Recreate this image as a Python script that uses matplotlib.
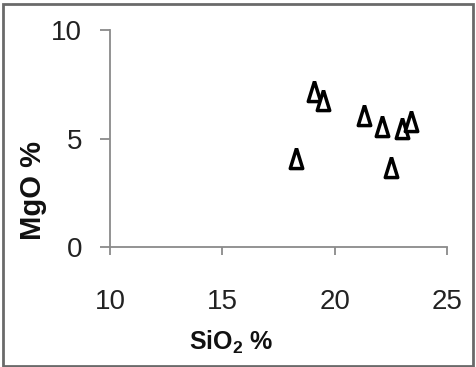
import matplotlib.pyplot as plt
from matplotlib.patches import Rectangle

# SiO2 vs MgO (wt %)
sio2 = [18.3, 19.1, 19.5, 21.3, 22.1, 22.5, 23.0, 23.4]
mgo = [4.1, 7.2, 6.8, 6.1, 5.6, 3.7, 5.5, 5.8]
x_ticks = [10, 15, 20, 25]
y_ticks = [0, 5, 10]

plt.rcParams['font.family'] = ['Liberation Sans', 'DejaVu Sans']
plt.rcParams['mathtext.fontset'] = 'custom'
plt.rcParams['mathtext.rm'] = 'Liberation Sans:bold'

fig = plt.figure(figsize=(4.76, 3.67), dpi=100)
fig.patches.append(Rectangle((0.006, 0.003), 0.988, 0.985, transform=fig.transFigure,
                             fill=False, edgecolor='#6a6a6a', linewidth=2.0))

ax = fig.add_axes([0.231, 0.327, 0.708, 0.591])

# narrow open triangle
tri = [(0, 1), (-0.62, -1), (0.62, -1), (0, 1)]
ax.plot(sio2, mgo, linestyle='none', marker=tri, markersize=14.5,
        markerfacecolor='white', markeredgecolor='black', markeredgewidth=2.5)

ax.set_xlim(10, 25)
ax.set_ylim(0, 10)
ax.set_xticks(x_ticks)
ax.set_yticks(y_ticks)
for s in ['top', 'right']:
    ax.spines[s].set_visible(False)
for s in ['left', 'bottom']:
    ax.spines[s].set_color('#8a8a8a')
    ax.spines[s].set_linewidth(1.3)
ax.tick_params(axis='x', direction='out', length=6, width=1.3, color='#8a8a8a',
               labelsize=20, labelcolor='#222222', pad=24)
ax.tick_params(axis='y', direction='out', length=7, width=1.3, color='#8a8a8a',
               labelsize=20, labelcolor='#222222', pad=13)

fig.text(0.07, 0.48, 'MgO %', rotation=90, ha='center', va='center',
         fontsize=21, fontweight='bold', color='#111111')
fig.text(0.485, 0.066, r'$\mathregular{SiO_2}$ %', ha='center', va='center',
         fontsize=18, fontweight='bold', color='#111111')

fig.savefig('out.png', dpi=100)
